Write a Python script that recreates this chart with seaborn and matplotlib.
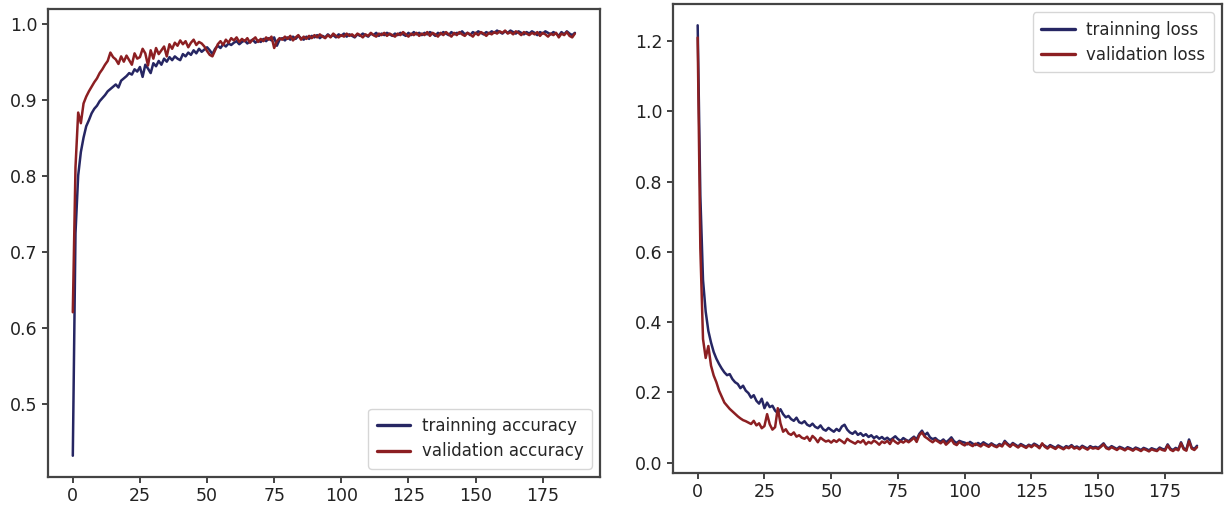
import numpy as np
import pandas as pd
import seaborn as sns
import matplotlib
matplotlib.use("Agg")
import matplotlib.pyplot as plt

# values (one per epoch, 0..187)
train_acc = [
    0.432, 0.725, 0.801, 0.832, 0.851, 0.866, 0.874, 0.883, 0.889, 0.893,
    0.899, 0.903, 0.907, 0.912, 0.915, 0.918, 0.921, 0.917, 0.926, 0.929,
    0.932, 0.936, 0.934, 0.941, 0.938, 0.944, 0.931, 0.947, 0.942, 0.936,
    0.949, 0.945, 0.952, 0.947, 0.955, 0.951, 0.957, 0.953, 0.958, 0.955,
    0.953, 0.961, 0.958, 0.963, 0.960, 0.966, 0.962, 0.968, 0.964, 0.967,
    0.970, 0.966, 0.961, 0.968, 0.972, 0.969, 0.974, 0.971, 0.975, 0.973,
    0.976, 0.978, 0.974, 0.977, 0.979, 0.975, 0.978, 0.980, 0.976, 0.979,
    0.977, 0.981, 0.978, 0.982, 0.979, 0.983, 0.972, 0.980, 0.982, 0.979,
    0.983, 0.980, 0.984, 0.981, 0.985, 0.982, 0.980, 0.984, 0.981, 0.985,
    0.983, 0.986, 0.982, 0.985, 0.983, 0.987, 0.984, 0.986, 0.983, 0.987,
    0.985, 0.988, 0.984, 0.987, 0.985, 0.983, 0.987, 0.985, 0.988, 0.986,
    0.984, 0.988, 0.986, 0.989, 0.985, 0.988, 0.986, 0.989, 0.987, 0.985,
    0.988, 0.986, 0.989, 0.987, 0.985, 0.989, 0.986, 0.990, 0.987, 0.989,
    0.986, 0.989, 0.987, 0.990, 0.988, 0.985, 0.989, 0.987, 0.990, 0.988,
    0.986, 0.990, 0.987, 0.989, 0.988, 0.991, 0.987, 0.989, 0.986, 0.990,
    0.988, 0.991, 0.989, 0.987, 0.990, 0.988, 0.991, 0.989, 0.992, 0.990,
    0.988, 0.991, 0.989, 0.992, 0.990, 0.988, 0.991, 0.989, 0.987, 0.990,
    0.988, 0.991, 0.989, 0.986, 0.990, 0.988, 0.991, 0.989, 0.987, 0.990,
    0.988, 0.985, 0.990, 0.987, 0.991, 0.988, 0.986, 0.989,
]
val_acc = [
    0.621, 0.812, 0.884, 0.870, 0.896, 0.905, 0.912, 0.918, 0.924, 0.929,
    0.936, 0.941, 0.947, 0.952, 0.963, 0.957, 0.954, 0.948, 0.958, 0.951,
    0.959, 0.953, 0.947, 0.962, 0.955, 0.957, 0.968, 0.962, 0.946, 0.966,
    0.955, 0.969, 0.961, 0.966, 0.971, 0.958, 0.974, 0.968, 0.976, 0.972,
    0.979, 0.974, 0.978, 0.970, 0.976, 0.980, 0.973, 0.977, 0.975, 0.971,
    0.965, 0.960, 0.958, 0.966, 0.974, 0.978, 0.973, 0.980, 0.976, 0.982,
    0.979, 0.983, 0.977, 0.981, 0.978, 0.982, 0.976, 0.980, 0.983, 0.977,
    0.981, 0.978, 0.983, 0.980, 0.984, 0.969, 0.978, 0.982, 0.980, 0.984,
    0.981, 0.985, 0.979, 0.983, 0.986, 0.980, 0.984, 0.981, 0.985, 0.982,
    0.986, 0.983, 0.987, 0.984, 0.982, 0.986, 0.983, 0.988, 0.985, 0.983,
    0.986, 0.984, 0.988, 0.985, 0.987, 0.984, 0.988, 0.986, 0.983, 0.987,
    0.985, 0.989, 0.986, 0.984, 0.988, 0.986, 0.989, 0.985, 0.988, 0.986,
    0.984, 0.988, 0.986, 0.990, 0.987, 0.984, 0.988, 0.986, 0.989, 0.985,
    0.988, 0.986, 0.990, 0.985, 0.989, 0.987, 0.984, 0.989, 0.986, 0.990,
    0.987, 0.984, 0.989, 0.986, 0.990, 0.987, 0.985, 0.989, 0.987, 0.984,
    0.989, 0.986, 0.990, 0.988, 0.985, 0.989, 0.987, 0.990, 0.988, 0.991,
    0.989, 0.992, 0.988, 0.990, 0.987, 0.991, 0.989, 0.986, 0.990, 0.988,
    0.986, 0.989, 0.987, 0.990, 0.985, 0.989, 0.987, 0.984, 0.988, 0.986,
    0.989, 0.983, 0.988, 0.986, 0.990, 0.985, 0.983, 0.988,
]
train_loss = [
    1.245, 0.760, 0.520, 0.430, 0.375, 0.342, 0.315, 0.296, 0.281, 0.268,
    0.257, 0.249, 0.252, 0.238, 0.229, 0.224, 0.212, 0.219, 0.205, 0.198,
    0.185, 0.192, 0.176, 0.168, 0.182, 0.155, 0.171, 0.158, 0.162, 0.148,
    0.141, 0.152, 0.138, 0.129, 0.133, 0.124, 0.119, 0.128, 0.115, 0.112,
    0.118, 0.108, 0.104, 0.111, 0.102, 0.098, 0.106, 0.095, 0.091, 0.099,
    0.093, 0.088, 0.096, 0.090, 0.103, 0.108, 0.094, 0.086, 0.082, 0.089,
    0.079, 0.084, 0.076, 0.081, 0.073, 0.078, 0.070, 0.075, 0.068, 0.073,
    0.066, 0.071, 0.064, 0.069, 0.075, 0.067, 0.062, 0.070, 0.065, 0.061,
    0.068, 0.074, 0.066, 0.082, 0.091, 0.078, 0.085, 0.072, 0.067, 0.070,
    0.063, 0.060, 0.066, 0.058, 0.064, 0.072, 0.061, 0.056, 0.062, 0.059,
    0.057, 0.052, 0.059, 0.054, 0.050, 0.056, 0.051, 0.058, 0.053, 0.049,
    0.055, 0.050, 0.047, 0.053, 0.049, 0.062, 0.054, 0.048, 0.056, 0.051,
    0.046, 0.053, 0.049, 0.045, 0.051, 0.047, 0.054, 0.050, 0.044, 0.052,
    0.048, 0.043, 0.050, 0.046, 0.042, 0.049, 0.045, 0.041, 0.047, 0.044,
    0.050, 0.043, 0.046, 0.041, 0.048, 0.044, 0.040, 0.047, 0.043, 0.045,
    0.042, 0.048, 0.055, 0.044, 0.041, 0.047, 0.043, 0.039, 0.045, 0.042,
    0.038, 0.044, 0.041, 0.037, 0.043, 0.040, 0.036, 0.042, 0.039, 0.035,
    0.041, 0.038, 0.036, 0.043, 0.039, 0.037, 0.052, 0.040, 0.036, 0.042,
    0.038, 0.058, 0.041, 0.037, 0.066, 0.043, 0.039, 0.048,
]
val_loss = [
    1.210, 0.610, 0.352, 0.298, 0.332, 0.276, 0.248, 0.229, 0.205, 0.188,
    0.171, 0.162, 0.153, 0.146, 0.139, 0.132, 0.126, 0.121, 0.118, 0.114,
    0.110, 0.119, 0.106, 0.112, 0.098, 0.104, 0.138, 0.109, 0.094, 0.101,
    0.155, 0.112, 0.088, 0.095, 0.083, 0.079, 0.086, 0.074, 0.078, 0.071,
    0.068, 0.074, 0.062, 0.076, 0.069, 0.058, 0.071, 0.065, 0.060, 0.063,
    0.057, 0.064, 0.059, 0.066, 0.061, 0.055, 0.068, 0.062, 0.058, 0.054,
    0.061, 0.057, 0.064, 0.052, 0.059, 0.055, 0.063, 0.058, 0.051, 0.060,
    0.056, 0.062, 0.053, 0.066, 0.059, 0.054, 0.061, 0.057, 0.063, 0.058,
    0.064, 0.071, 0.059, 0.078, 0.086, 0.074, 0.069, 0.063, 0.058, 0.065,
    0.060, 0.055, 0.062, 0.051, 0.058, 0.066, 0.054, 0.050, 0.059, 0.053,
    0.049, 0.056, 0.051, 0.047, 0.054, 0.050, 0.046, 0.053, 0.049, 0.045,
    0.052, 0.047, 0.044, 0.050, 0.046, 0.058, 0.051, 0.045, 0.053, 0.048,
    0.043, 0.050, 0.046, 0.042, 0.049, 0.044, 0.051, 0.047, 0.041, 0.055,
    0.045, 0.040, 0.047, 0.043, 0.039, 0.046, 0.042, 0.038, 0.044, 0.041,
    0.047, 0.040, 0.043, 0.038, 0.045, 0.041, 0.037, 0.044, 0.040, 0.042,
    0.039, 0.045, 0.052, 0.041, 0.038, 0.044, 0.040, 0.036, 0.042, 0.039,
    0.035, 0.041, 0.038, 0.034, 0.040, 0.037, 0.033, 0.039, 0.036, 0.032,
    0.038, 0.035, 0.033, 0.040, 0.036, 0.034, 0.049, 0.037, 0.033, 0.039,
    0.035, 0.055, 0.038, 0.034, 0.061, 0.040, 0.036, 0.044,
]

TRAIN_COLOR = '#262663'
VAL_COLOR = '#8c1f22'


def long_frame(first, second, names):
    epochs = np.arange(len(first))
    return pd.DataFrame({
        'epoch': np.concatenate([epochs, epochs]),
        'value': np.concatenate([first, second]),
        'series': [names[0]] * len(first) + [names[1]] * len(second),
    })


sns.set_theme(style='ticks')
plt.rcParams['font.family'] = ['DejaVu Sans']

fig = plt.figure(figsize=(12.25, 5.2), dpi=100)
ax_acc = fig.add_axes([47.7 / 1225, 1 - 477 / 520, (600 - 47.7) / 1225, (477 - 9.3) / 520])
ax_loss = fig.add_axes([672.7 / 1225, 1 - 472.7 / 520, (1222 - 672.7) / 1225, (472.7 - 4) / 520])

acc_names = ['trainning accuracy', 'validation accuracy']
loss_names = ['trainning loss', 'validation loss']

for ax, df, names, loc in [
    (ax_acc, long_frame(train_acc, val_acc, acc_names), acc_names, 'lower right'),
    (ax_loss, long_frame(train_loss, val_loss, loss_names), loss_names, 'upper right'),
]:
    sns.lineplot(
        data=df, x='epoch', y='value', hue='series', hue_order=names,
        palette=[TRAIN_COLOR, VAL_COLOR], linewidth=1.8, ax=ax,
    )
    ax.set_xlabel('')
    ax.set_ylabel('')
    ax.set_xticks([0, 25, 50, 75, 100, 125, 150, 175])
    for side in ['top', 'right', 'left', 'bottom']:
        ax.spines[side].set_visible(True)
        ax.spines[side].set_color('#444444')
        ax.spines[side].set_linewidth(1.6)
    ax.tick_params(labelsize=12.5, length=4, width=1.2, colors='#222222')
    leg = ax.legend(loc=loc, fontsize=12, frameon=True, handlelength=2.0,
                    borderpad=0.5, labelspacing=0.45, handletextpad=0.7)
    leg.get_frame().set_edgecolor('#cccccc')
    for line in leg.get_lines():
        line.set_linewidth(2.4)

ax_acc.set_yticks([0.5, 0.6, 0.7, 0.8, 0.9, 1.0])
ax_loss.set_yticks([0.0, 0.2, 0.4, 0.6, 0.8, 1.0, 1.2])

fig.savefig('out.png', dpi=100)
